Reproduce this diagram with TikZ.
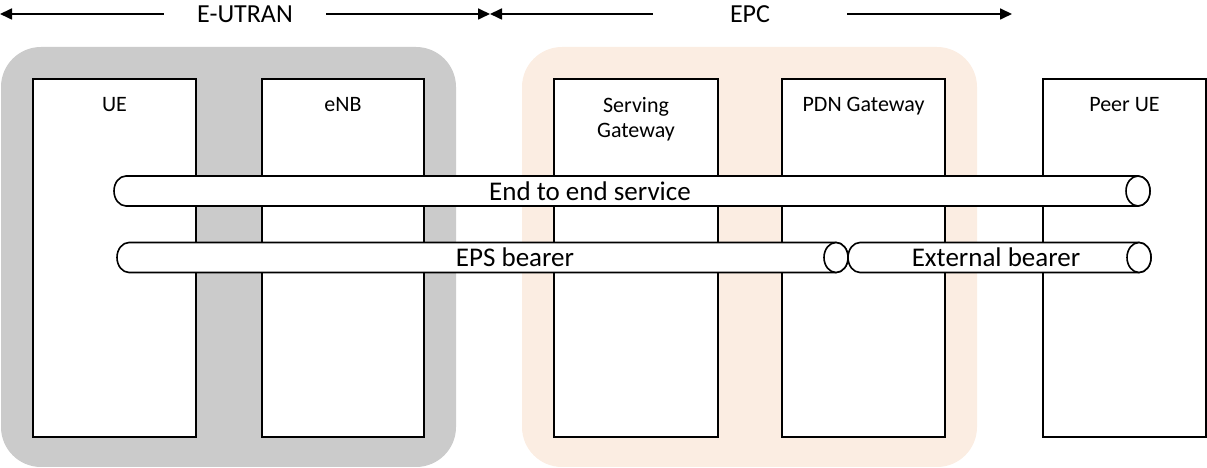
\documentclass[tikz,border=0pt]{standalone}
\usepackage{fontspec}
\setmainfont{Carlito}
\usetikzlibrary{arrows.meta}

\definecolor{eutranfill}{RGB}{203,203,203}
\definecolor{epcfill}{RGB}{251,237,226}

% horizontal bearer pipe: #1 left end x, #2 centre x of the right end cap, #3 centre y
\newcommand\drawpipe[3]{%
  \filldraw[pipe] (#2,#3+15) -- (#1+12,#3+15)
    arc[start angle=90,end angle=270,x radius=12,y radius=15]
    -- (#2,#3-15)
    arc[start angle=-90,end angle=90,x radius=12,y radius=15] -- cycle;
  \draw[pipe] (#2,#3) ellipse[x radius=12,y radius=15];}

\begin{document}
\begin{tikzpicture}[x=1pt,y=1pt,
  region/.style={rounded corners=40pt},
  entity/.style={draw=black,fill=white,line width=1.6pt},
  entlabel/.style={anchor=north,inner sep=0pt,align=center,
                   font=\fontsize{22}{25}\selectfont},
  pipe/.style={draw=black,fill=white,line width=1.6pt},
  pipelabel/.style={inner sep=0pt,font=\fontsize{27}{30}\selectfont},
  domainlabel/.style={inner sep=0pt,font=\fontsize{26}{30}\selectfont},
  span/.style={line width=1.7pt,-{Triangle[length=12pt,width=11pt]}}]

\useasboundingbox (0,0) rectangle (1207,468);

% domain backgrounds
\fill[eutranfill,region] (1,1) rectangle (456,421);
\fill[epcfill,region] (522,1) rectangle (977,421);

% network entities
\draw[entity] (33,31) rectangle (196,389);
\draw[entity] (262,31) rectangle (424,389);
\draw[entity] (554,31) rectangle (718,389);
\draw[entity] (782,31) rectangle (945,389);
\draw[entity] (1043,31) rectangle (1206,389);

\node[entlabel] (ue)   at (114.5,371) {UE};
\node[entlabel] (enb)  at (343,371) {eNB};
\node[entlabel] (sgw)  at (636,371) {Serving\\Gateway};
\node[entlabel] (pgw)  at (863.5,371) {PDN Gateway};
\node[entlabel] (peer) at (1124.5,371) {Peer UE};

% bearers
\drawpipe{114}{1138}{277}
\drawpipe{117}{836}{210.5}
\drawpipe{848}{1139}{210.5}

\node[pipelabel] (e2e) at (590,277) {End to end service};
\node[pipelabel] (eps) at (515,210.5) {EPS bearer};
\node[pipelabel] (ext) at (996,210.5) {External bearer};

% domain spans
\node[domainlabel,minimum width=162pt] (eutran) at (245,454) {E-UTRAN};
\node[domainlabel,minimum width=194pt] (epc) at (750,454) {EPC};
\coordinate (spanL) at (0,454);
\coordinate (spanM) at (490,454);
\coordinate (spanR) at (1012,454);

\draw[span] (eutran.west) -- (spanL);
\draw[span] (eutran.east) -- (spanM);
\draw[span] (epc.west) -- (spanM);
\draw[span] (epc.east) -- (spanR);
\end{tikzpicture}
\end{document}
